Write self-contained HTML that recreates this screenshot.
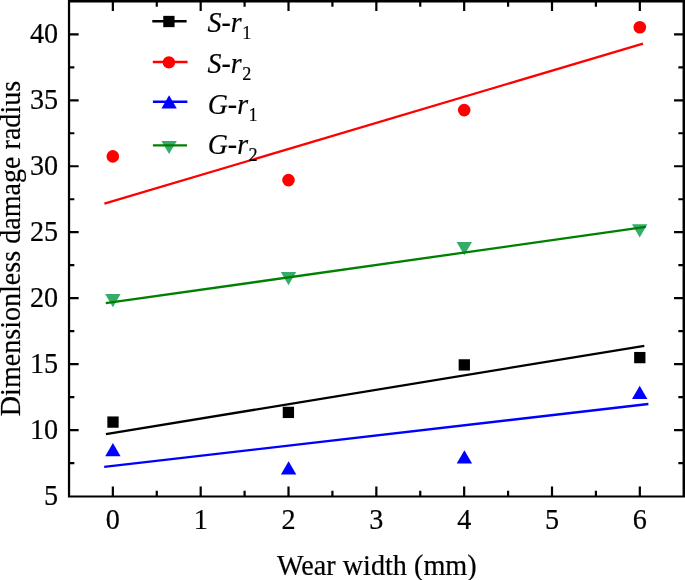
<!DOCTYPE html><html><head><meta charset="utf-8"><style>html,body{margin:0;padding:0;background:#fff;}svg{display:block;}svg{will-change:transform;}text{font-family:"Liberation Serif",serif;fill:#000;stroke:#000;stroke-width:0.2px;}</style></head><body>
<svg width="685" height="580" viewBox="0 0 685 580">
<rect x="0" y="0" width="685" height="580" fill="#fff"/>
<path d="M67.9 -1 H686 V497.45 H67.9 Z M70.15 2.45 V495.45 H682.55 V2.45 Z" fill="#000" fill-rule="evenodd"/>
<path d="M112.85 495.95 V486.40 M112.85 1.9500000000000002 V10.95 M200.68 495.95 V486.40 M200.68 1.9500000000000002 V10.95 M288.51 495.95 V486.40 M288.51 1.9500000000000002 V10.95 M376.34 495.95 V486.40 M376.34 1.9500000000000002 V10.95 M464.17 495.95 V486.40 M464.17 1.9500000000000002 V10.95 M552.00 495.95 V486.40 M552.00 1.9500000000000002 V10.95 M639.83 495.95 V486.40 M639.83 1.9500000000000002 V10.95 M156.76 495.95 V490.85 M156.76 1.9500000000000002 V6.65 M244.59 495.95 V490.85 M244.59 1.9500000000000002 V6.65 M332.42 495.95 V490.85 M332.42 1.9500000000000002 V6.65 M420.25 495.95 V490.85 M420.25 1.9500000000000002 V6.65 M508.09 495.95 V490.85 M508.09 1.9500000000000002 V6.65 M595.91 495.95 V490.85 M595.91 1.9500000000000002 V6.65 M69.65 430.11 H78.65 M683.05 430.11 H674.05 M69.65 364.14 H78.65 M683.05 364.14 H674.05 M69.65 298.18 H78.65 M683.05 298.18 H674.05 M69.65 232.21 H78.65 M683.05 232.21 H674.05 M69.65 166.25 H78.65 M683.05 166.25 H674.05 M69.65 100.28 H78.65 M683.05 100.28 H674.05 M69.65 34.31 H78.65 M683.05 34.31 H674.05 M69.65 463.09 H74.35 M683.05 463.09 H678.35 M69.65 397.12 H74.35 M683.05 397.12 H678.35 M69.65 331.16 H74.35 M683.05 331.16 H678.35 M69.65 265.19 H74.35 M683.05 265.19 H678.35 M69.65 199.23 H74.35 M683.05 199.23 H678.35 M69.65 133.26 H74.35 M683.05 133.26 H678.35 M69.65 67.30 H74.35 M683.05 67.30 H678.35" stroke="#000" stroke-width="2.2" fill="none"/>
<text transform="translate(112.85,529.3) scale(1,1.055)" font-size="28.2" text-anchor="middle">0</text>
<text transform="translate(200.68,529.3) scale(1,1.055)" font-size="28.2" text-anchor="middle">1</text>
<text transform="translate(288.51,529.3) scale(1,1.055)" font-size="28.2" text-anchor="middle">2</text>
<text transform="translate(376.34,529.3) scale(1,1.055)" font-size="28.2" text-anchor="middle">3</text>
<text transform="translate(464.17,529.3) scale(1,1.055)" font-size="28.2" text-anchor="middle">4</text>
<text transform="translate(552.00,529.3) scale(1,1.055)" font-size="28.2" text-anchor="middle">5</text>
<text transform="translate(639.83,529.3) scale(1,1.055)" font-size="28.2" text-anchor="middle">6</text>
<text transform="translate(58.1,504.57) scale(1,1.055)" font-size="28.2" text-anchor="end">5</text>
<text transform="translate(58.1,438.61) scale(1,1.055)" font-size="28.2" text-anchor="end">10</text>
<text transform="translate(58.1,372.64) scale(1,1.055)" font-size="28.2" text-anchor="end">15</text>
<text transform="translate(58.1,306.68) scale(1,1.055)" font-size="28.2" text-anchor="end">20</text>
<text transform="translate(58.1,240.71) scale(1,1.055)" font-size="28.2" text-anchor="end">25</text>
<text transform="translate(58.1,174.75) scale(1,1.055)" font-size="28.2" text-anchor="end">30</text>
<text transform="translate(58.1,108.78) scale(1,1.055)" font-size="28.2" text-anchor="end">35</text>
<text transform="translate(58.1,42.81) scale(1,1.055)" font-size="28.2" text-anchor="end">40</text>
<text transform="translate(376.8,574.6) scale(1,1.06)" font-size="28.2" text-anchor="middle">Wear width (mm)</text>
<text transform="translate(19.7,248.5) rotate(-90) scale(1,1.06)" font-size="28.1" text-anchor="middle">Dimensionless damage radius</text>
<path d="M105.20 294.00 L120.60 294.00 L112.90 307.20 Z" fill="#36ac6c"/>
<path d="M280.80 272.10 L296.20 272.10 L288.50 285.30 Z" fill="#36ac6c"/>
<path d="M456.60 242.10 L472.00 242.10 L464.30 255.30 Z" fill="#36ac6c"/>
<path d="M632.00 224.30 L647.40 224.30 L639.70 237.50 Z" fill="#36ac6c"/>
<line x1="105.9" y1="434.1" x2="644.3" y2="345.8" stroke="#000" stroke-width="2.3"/>
<line x1="104.4" y1="203.7" x2="643.0" y2="43.6" stroke="#f00" stroke-width="2.3"/>
<line x1="104.2" y1="466.9" x2="648.4" y2="404.0" stroke="#00f" stroke-width="2.3"/>
<line x1="105.8" y1="303.2" x2="645.8" y2="226.9" stroke="#008000" stroke-width="2.3"/>
<rect x="107.35" y="416.45" width="11.3" height="11.3" fill="#000"/>
<rect x="282.75" y="406.75" width="11.3" height="11.3" fill="#000"/>
<rect x="458.65" y="359.25" width="11.3" height="11.3" fill="#000"/>
<rect x="634.15" y="351.95" width="11.3" height="11.3" fill="#000"/>
<circle cx="112.80" cy="156.40" r="6.3" fill="#f00"/>
<circle cx="288.50" cy="180.10" r="6.3" fill="#f00"/>
<circle cx="464.20" cy="110.10" r="6.3" fill="#f00"/>
<circle cx="639.80" cy="27.30" r="6.3" fill="#f00"/>
<path d="M112.90 443.00 L120.60 456.20 L105.20 456.20 Z" fill="#00f"/>
<path d="M288.60 461.30 L296.30 474.50 L280.90 474.50 Z" fill="#00f"/>
<path d="M464.40 450.30 L472.10 463.50 L456.70 463.50 Z" fill="#00f"/>
<path d="M639.70 385.70 L647.40 398.90 L632.00 398.90 Z" fill="#00f"/>
<line x1="152.3" y1="21.2" x2="186.6" y2="21.2" stroke="#000" stroke-width="2.4"/>
<rect x="163.25" y="15.85" width="11.3" height="11.3" fill="#000"/>
<line x1="152.8" y1="62.0" x2="187.6" y2="62.0" stroke="#f00" stroke-width="2.4"/>
<circle cx="168.90" cy="62.40" r="6.2" fill="#f00"/>
<line x1="152.9" y1="101.7" x2="187.4" y2="101.7" stroke="#00f" stroke-width="2.4"/>
<path d="M169.10 95.30 L176.80 108.50 L161.40 108.50 Z" fill="#00f"/>
<path d="M161.40 140.90 L176.80 140.90 L169.10 154.10 Z" fill="#36ac6c"/>
<line x1="152.9" y1="145.4" x2="187.0" y2="145.4" stroke="#008000" stroke-width="2.4"/>
<text transform="translate(207.5,31.5) scale(1,1.05)" font-size="27.9"><tspan font-style="italic">S</tspan>-<tspan font-style="italic">r</tspan><tspan font-size="18.2" dx="0.6" dy="6.8">1</tspan></text>
<text transform="translate(207.5,73.0) scale(1,1.05)" font-size="27.9"><tspan font-style="italic">S</tspan>-<tspan font-style="italic">r</tspan><tspan font-size="18.2" dx="0.6" dy="6.8">2</tspan></text>
<text transform="translate(207.7,113.6) scale(1,1.05)" font-size="27.9"><tspan font-style="italic">G</tspan>-<tspan font-style="italic">r</tspan><tspan font-size="18.2" dx="0.6" dy="6.8">1</tspan></text>
<text transform="translate(207.7,153.6) scale(1,1.05)" font-size="27.9"><tspan font-style="italic">G</tspan>-<tspan font-style="italic">r</tspan><tspan font-size="18.2" dx="0.6" dy="6.8">2</tspan></text>
</svg></body></html>
